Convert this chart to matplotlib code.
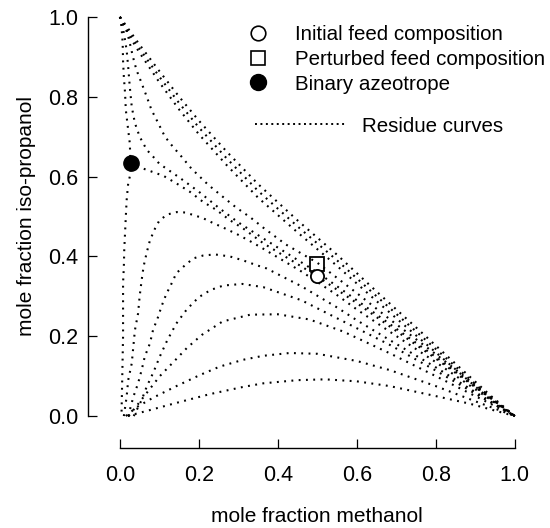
"""Residue curve map for the methanol / iso-propanol / water system."""

import matplotlib

matplotlib.use("Agg")

import matplotlib.pyplot as plt
from matplotlib.lines import Line2D

plt.rcParams["font.family"] = ["Liberation Sans", "DejaVu Sans"]

# residue curves leaving pure water (origin) and bending over to methanol
a1_x = [0.02, 0.034, 0.076, 0.143, 0.228, 0.312, 0.363, 0.45, 0.52, 0.6, 0.684, 0.8, 0.886, 1.0]
a1_y = [0.0, 0.004, 0.015, 0.033, 0.055, 0.073, 0.082, 0.09, 0.092, 0.087, 0.075, 0.05, 0.031, 0.0]

a2_x = [0.015, 0.042, 0.084, 0.143, 0.203, 0.253, 0.312, 0.363, 0.43, 0.5, 0.6, 0.684, 0.8, 0.9, 1.0]
a2_y = [0.0, 0.022, 0.046, 0.075, 0.103, 0.124, 0.141, 0.151, 0.158, 0.156, 0.138, 0.115, 0.075, 0.037, 0.0]

a3_x = [0.022, 0.042, 0.068, 0.101, 0.143, 0.169, 0.207, 0.26, 0.33, 0.4, 0.48, 0.565, 0.684, 0.8, 0.9, 1.0]
a3_y = [0.0, 0.025, 0.058, 0.1, 0.143, 0.17, 0.203, 0.237, 0.254, 0.255, 0.242, 0.212, 0.157, 0.1, 0.05, 0.0]

a4_x = [0.035, 0.055, 0.068, 0.085, 0.101, 0.12, 0.143, 0.17, 0.2, 0.23, 0.262, 0.31, 0.363,
        0.46, 0.55, 0.6, 0.684, 0.8, 0.9, 1.0]
a4_y = [0.0, 0.04, 0.074, 0.11, 0.149, 0.19, 0.232, 0.268, 0.298, 0.316, 0.327, 0.331, 0.323,
        0.29, 0.245, 0.22, 0.178, 0.114, 0.056, 0.0]

a5_x = [0.021, 0.034, 0.046, 0.055, 0.063, 0.076, 0.084, 0.097, 0.105, 0.118, 0.127, 0.143, 0.165,
        0.186, 0.21, 0.24, 0.278, 0.312, 0.346, 0.371, 0.46, 0.55, 0.6, 0.684, 0.8, 0.9, 1.0]
a5_y = [0.0, 0.048, 0.082, 0.115, 0.149, 0.182, 0.216, 0.249, 0.274, 0.307, 0.324, 0.358, 0.378,
        0.395, 0.402, 0.405, 0.4, 0.39, 0.378, 0.37, 0.325, 0.272, 0.24, 0.19, 0.122, 0.06, 0.0]

a6_x = [0.01, 0.017, 0.021, 0.03, 0.034, 0.038, 0.046, 0.05, 0.055, 0.06, 0.068, 0.076, 0.089, 0.1,
        0.12, 0.144, 0.165, 0.185, 0.21, 0.235, 0.26, 0.296, 0.33, 0.36, 0.46, 0.55, 0.6, 0.684,
        0.8, 0.9, 1.0]
a6_y = [0.0, 0.048, 0.09, 0.132, 0.174, 0.215, 0.257, 0.3, 0.34, 0.375, 0.41, 0.44, 0.47, 0.49,
        0.505, 0.511, 0.51, 0.504, 0.496, 0.484, 0.473, 0.456, 0.438, 0.421, 0.362, 0.303, 0.267,
        0.211, 0.135, 0.067, 0.0]

# curve hugging the iso-propanol/water edge through the azeotrope
v_x = [0.0, 0.004, 0.007, 0.008, 0.01, 0.013, 0.015, 0.02, 0.025, 0.027, 0.027, 0.021, 0.017,
       0.015, 0.013, 0.011, 0.01, 0.008, 0.008, 0.006, 0.004]
v_y = [1.0, 0.976, 0.935, 0.89, 0.85, 0.81, 0.767, 0.725, 0.684, 0.635, 0.608, 0.583, 0.54,
       0.5, 0.458, 0.416, 0.374, 0.333, 0.2, 0.1, 0.0]

# separatrix from the azeotrope to pure methanol
s_x = [0.027, 0.059, 0.11, 0.143, 0.177, 0.21, 0.245, 0.278, 0.312, 0.363, 0.456, 0.5, 0.6,
       0.684, 0.8, 0.9, 1.0]
s_y = [0.635, 0.62, 0.602, 0.583, 0.562, 0.537, 0.516, 0.491, 0.47, 0.433, 0.377, 0.35, 0.283,
       0.224, 0.144, 0.072, 0.0]

c1_x = [0.0, 0.01, 0.017, 0.021, 0.025, 0.03, 0.038, 0.05, 0.068, 0.084, 0.1, 0.15, 0.2, 0.25,
        0.3, 0.363, 0.5, 0.6, 0.684, 0.8, 0.9, 1.0]
c1_y = [1.0, 0.96, 0.917, 0.875, 0.825, 0.775, 0.734, 0.7, 0.667, 0.65, 0.632, 0.598, 0.562,
        0.522, 0.485, 0.445, 0.36, 0.29, 0.23, 0.148, 0.074, 0.0]

# curves running from iso-propanol to methanol
b1_x = [0.0, 0.017, 0.025, 0.033, 0.042, 0.055, 0.068, 0.08, 0.097, 0.114, 0.134, 0.156, 0.181,
        0.224, 0.266, 0.295, 0.33, 0.363, 0.42, 0.5, 0.6, 0.684, 0.8, 0.9, 1.0]
b1_y = [1.0, 0.967, 0.935, 0.9, 0.867, 0.834, 0.8, 0.767, 0.734, 0.7, 0.675, 0.65, 0.62,
        0.579, 0.545, 0.522, 0.498, 0.472, 0.43, 0.384, 0.308, 0.242, 0.155, 0.078, 0.0]

band_x = [0.0, 0.02, 0.05, 0.1, 0.15, 0.2, 0.27, 0.35, 0.45, 0.55, 0.65, 0.75, 0.85, 0.94, 1.0]
b2_y = [1.0, 0.972, 0.93, 0.864, 0.8, 0.74, 0.663, 0.581, 0.49, 0.404, 0.312, 0.222, 0.131, 0.05, 0.0]
b3_y = [1.0, 0.965, 0.92, 0.85, 0.784, 0.723, 0.646, 0.564, 0.475, 0.39, 0.3, 0.212, 0.124, 0.045, 0.0]
b4_y = [1.0, 0.958, 0.91, 0.836, 0.768, 0.706, 0.629, 0.547, 0.46, 0.376, 0.288, 0.202, 0.117, 0.04, 0.0]

feed = (0.5, 0.35)
perturbed = (0.5, 0.38)
azeotrope = (0.027, 0.635)

curves = [
    (a1_x, a1_y), (a2_x, a2_y), (a3_x, a3_y), (a4_x, a4_y), (a5_x, a5_y), (a6_x, a6_y),
    (v_x, v_y), (s_x, s_y), (c1_x, c1_y), (b1_x, b1_y),
    (band_x, b2_y), (band_x, b3_y), (band_x, b4_y),
]

fig = plt.figure(figsize=(5.5, 5.28), dpi=100)
ax = fig.add_axes([0.218, 0.212, 0.718, 0.756])

dots = (0, (0.9, 2.6))
for xs, ys in curves:
    ax.plot(xs, ys, color="black", linestyle=dots, linewidth=1.5, clip_on=False)

ax.plot(*feed, marker="o", markersize=9.5, markerfacecolor="white", markeredgecolor="black",
        markeredgewidth=1.3, linestyle="none", clip_on=False, zorder=5)
ax.plot(*perturbed, marker="s", markersize=9.5, markerfacecolor="none", markeredgecolor="black",
        markeredgewidth=1.3, linestyle="none", clip_on=False, zorder=4)
ax.plot(*azeotrope, marker="o", markersize=11, color="black", linestyle="none",
        clip_on=False, zorder=5)

ax.set_xlim(0, 1)
ax.set_ylim(0, 1)
ax.set_xticks([0.0, 0.2, 0.4, 0.6, 0.8, 1.0])
ax.set_yticks([0.0, 0.2, 0.4, 0.6, 0.8, 1.0])
ax.xaxis.set_major_formatter(matplotlib.ticker.FormatStrFormatter("%.1f"))
ax.yaxis.set_major_formatter(matplotlib.ticker.FormatStrFormatter("%.1f"))

for side in ["top", "right"]:
    ax.spines[side].set_visible(False)
for side in ["left", "bottom"]:
    ax.spines[side].set_position(("outward", 23))
    ax.spines[side].set_linewidth(1.0)
ax.tick_params(direction="in", length=6.5, width=0.9, labelsize=15.5)
ax.tick_params(axis="y", pad=7)
ax.tick_params(axis="x", pad=12)

ax.set_xlabel("mole fraction methanol", fontsize=15)
ax.set_ylabel("mole fraction iso-propanol", fontsize=15)
ax.xaxis.set_label_coords(0.5, -0.228)
ax.yaxis.set_label_coords(-0.213, 0.5)

marker_handles = [
    Line2D([], [], marker="o", markersize=10.5, markerfacecolor="white",
           markeredgecolor="black", markeredgewidth=1.2, linestyle="none"),
    Line2D([], [], marker="s", markersize=10.5, markerfacecolor="white",
           markeredgecolor="black", markeredgewidth=1.2, linestyle="none"),
    Line2D([], [], marker="o", markersize=11.5, color="black", linestyle="none"),
]
marker_labels = ["Initial feed composition", "Perturbed feed composition", "Binary azeotrope"]
leg1 = ax.legend(marker_handles, marker_labels, loc="upper left",
                 bbox_to_anchor=(248 / 550, 1 - 25 / 528), bbox_transform=fig.transFigure,
                 frameon=False, fontsize=14.8, handlelength=1.0, handletextpad=1.3,
                 labelspacing=0.28, borderpad=0, borderaxespad=0)
ax.add_artist(leg1)

line_handle = Line2D([], [], color="black", linestyle=(0, (1, 1.8)), linewidth=1.4)
ax.legend([line_handle], ["Residue curves"], loc="upper left",
          bbox_to_anchor=(255 / 550, 1 - 116.5 / 528), bbox_transform=fig.transFigure,
          frameon=False, fontsize=14.8, handlelength=4.4, handletextpad=0.8,
          borderpad=0, borderaxespad=0)

fig.savefig("out.png", dpi=100)
plt.close(fig)
